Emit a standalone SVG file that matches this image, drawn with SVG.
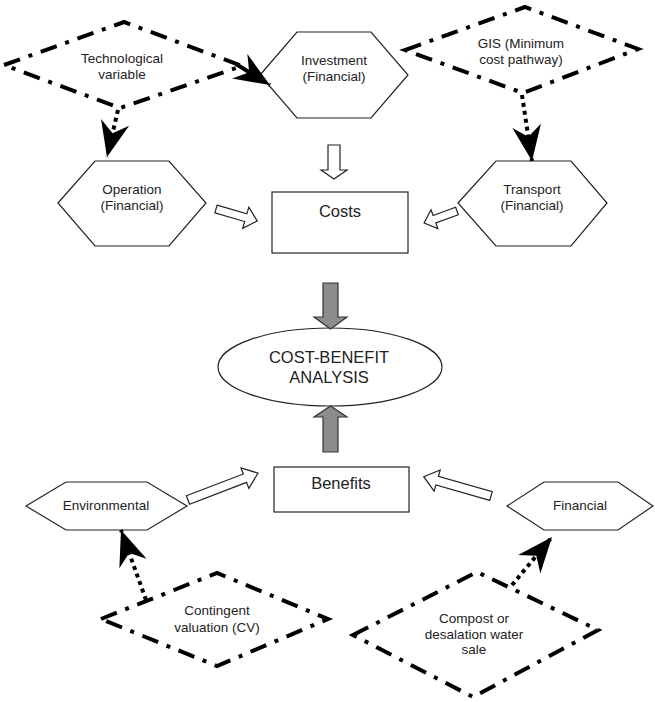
<svg xmlns="http://www.w3.org/2000/svg" width="655" height="702" viewBox="0 0 655 702">
<style>
.shape{fill:#fff;stroke:#222;stroke-width:1.2}
.dd{fill:none;stroke:#000;stroke-width:4;stroke-dasharray:17 9 4 9}
.dot{fill:none;stroke:#000;stroke-width:4;stroke-dasharray:4 4}
.hollow{fill:#fff;stroke:#222;stroke-width:1.2}
.gray{fill:#8c8c8c;stroke:#333;stroke-width:1.2}
text{font-family:"Liberation Sans",Arial,sans-serif;fill:#222;text-anchor:middle}
.s{font-size:13.5px}
.m{font-size:16.5px}
</style>
<defs>
<marker id="ah" markerUnits="userSpaceOnUse" markerWidth="40" markerHeight="40" viewBox="-34 -16 36 32" refX="0" refY="0" orient="auto">
<path d="M0,0 L-32,-13 L-22,0 L-32,13 Z" fill="#000"/>
</marker>
</defs>
<g id="tech"><polygon class="dd" points="4,65 124,22 242,66 120,108"/><text class="s" x="122" y="63">Technological</text><text class="s" x="122" y="79">variable</text></g>
<g id="gis"><polygon class="dd" points="405,50 525,7 638,49 523,93"/><text class="s" x="521" y="48">GIS (Minimum</text><text class="s" x="521" y="64">cost pathway)</text></g>
<g id="investment"><polygon class="shape" points="260,75 297,32 371,32 408,75 371,118 297,118"/><text class="s" x="334" y="65">Investment</text><text class="s" x="334" y="81">(Financial)</text></g>
<g id="operation"><polygon class="shape" points="58,203 95,161 169,161 206,203 169,246 95,246"/><text class="s" x="132" y="194">Operation</text><text class="s" x="132" y="210">(Financial)</text></g>
<g id="transport"><polygon class="shape" points="458,203 496,161 571,161 607,203 571,246 496,246"/><text class="s" x="532" y="194">Transport</text><text class="s" x="532" y="210">(Financial)</text></g>
<g id="costs"><rect class="shape" x="272" y="192" width="136" height="61"/><text class="m" x="340" y="217">Costs</text></g>
<g id="cba"><ellipse class="shape" cx="330" cy="367" rx="112" ry="39"/><text class="m" x="329" y="363">COST-BENEFIT</text><text class="m" x="329" y="383">ANALYSIS</text></g>
<g id="benefits"><rect class="shape" x="274" y="467" width="135" height="45"/><text class="m" x="341" y="489">Benefits</text></g>
<g id="environmental"><polygon class="shape" points="26,506 66,482 147,482 187,506 147,530 66,530"/><text class="s" x="106" y="510">Environmental</text></g>
<g id="financial"><polygon class="shape" points="507,506 544,482 618,482 653,506 618,530 544,530"/><text class="s" x="580" y="510">Financial</text></g>
<g id="contingent"><polygon class="dd" points="101,619 217,573 328,619 217,666"/><text class="s" x="217" y="615">Contingent</text><text class="s" x="217" y="632">valuation (CV)</text></g>
<g id="compost"><polygon class="dd" points="353,635 477,572 598,630 473,697"/><text class="s" x="474" y="623">Compost or</text><text class="s" x="474" y="639">desalation water</text><text class="s" x="474" y="654">sale</text></g>
<g id="connectors">
<path class="dd" d="M236,64 L270,85" marker-end="url(#ah)"/>
<path class="dot" d="M118,110 L107,157" marker-end="url(#ah)"/>
<path class="dot" d="M522,95 L532,161" marker-end="url(#ah)"/>
<path class="dot" d="M146,600 L121,530" marker-end="url(#ah)"/>
<path class="dot" d="M512,585 L552,537" marker-end="url(#ah)"/>
<path class="hollow" d="M328,145 L340,145 L340,170 L347,170 L334,179 L321,170 L328,170 Z"/>
<path class="hollow" transform="translate(216,209) rotate(16.3)" d="M0,-4 L31,-4 L31,-11 L43,0 L31,11 L31,4 L0,4 Z"/>
<path class="hollow" transform="translate(457,211) rotate(160)" d="M0,-4 L24,-4 L24,-10 L35,0 L24,10 L24,4 L0,4 Z"/>
<path class="hollow" transform="translate(188,500) rotate(-21)" d="M0,-4.5 L61,-4.5 L61,-11 L75,0 L61,11 L61,4.5 L0,4.5 Z"/>
<path class="hollow" transform="translate(491,496) rotate(-164)" d="M0,-4.5 L56,-4.5 L56,-11 L70,0 L56,11 L56,4.5 L0,4.5 Z"/>
<path class="gray" d="M323,283 L338,283 L338,317 L347,317 L330.5,329 L314,317 L323,317 Z"/>
<path class="gray" d="M323,452 L338,452 L338,417 L347,417 L330.5,406 L314,417 L323,417 Z"/>
</g>
</svg>
